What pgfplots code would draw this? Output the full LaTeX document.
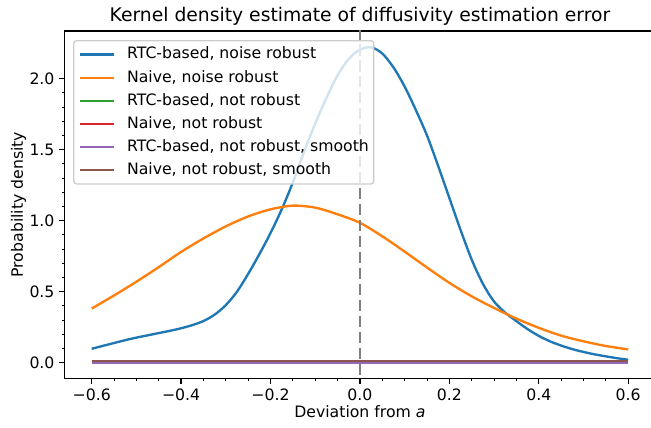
\documentclass[border=0pt]{standalone}
\usepackage{fontspec}
\setmainfont{DejaVu Sans}[ItalicFont={DejaVu Sans Oblique}]
\usepackage{pgfplots}
\pgfplotsset{compat=1.18}

\definecolor{tabblue}{HTML}{1F77B4}
\definecolor{taborange}{HTML}{FF7F0E}
\definecolor{tabgreen}{HTML}{2CA02C}
\definecolor{tabred}{HTML}{D62728}
\definecolor{tabpurple}{HTML}{9467BD}
\definecolor{tabbrown}{HTML}{8C564B}
\definecolor{legframe}{HTML}{CCCCCC}

\begin{document}
\begin{tikzpicture}
\begin{axis}[%
    ,at={(0,0)},anchor=south west
    ,scale only axis,width=424.9pt,height=250.1pt
    ,xmin=-0.66,xmax=0.66,ymin=-0.111,ymax=2.337
    ,axis line style={line width=0.9pt}
    ,tick align=outside,xtick pos=bottom,ytick pos=left
    ,major tick length=3.95pt,minor tick length=2.25pt
    ,every major tick/.append style={black,line width=0.9pt}
    ,every minor tick/.append style={black,line width=0.7pt}
    ,xtick={-0.6,-0.4,-0.2,0,0.2,0.4,0.6}
    ,xticklabels={−0.6,−0.4,−0.2,0.0,0.2,0.4,0.6}
    ,minor x tick num=3
    ,ytick={0,0.5,1,1.5,2}
    ,yticklabels={0.0,0.5,1.0,1.5,2.0}
    ,minor y tick num=4
    ,tick label style={font=\fontsize{11.3}{13.5}\selectfont}
    ,title={Kernel density estimate of diffusivity estimation error}
    ,every axis title/.style={font=\fontsize{13.5}{16}\selectfont,at={(0.5,1)},anchor=base,yshift=6.7pt}
    ,xlabel={Deviation from \textit{a}}
    ,every axis x label/.style={font=\fontsize{11.3}{13.5}\selectfont,at={(0.5,0)},anchor=base,yshift=-28pt}
    ,ylabel={Probability density}
    ,every axis y label/.style={font=\fontsize{11.3}{13.5}\selectfont,at={(0,0.5)},xshift=-30.2pt,rotate=90,anchor=base}
    ,legend cell align=left
    ,legend style={%
        ,at={(0.0142,0.974)},anchor=north west
        ,draw=legframe,line width=0.9pt,rounded corners=2pt
        ,fill=white,fill opacity=0.8,text opacity=1
        ,font=\fontsize{11.3}{13.5}\selectfont
        ,inner xsep=3.5pt,inner ysep=4.6pt
        ,row sep=5.6pt,column sep=8.6pt
        ,nodes={inner sep=0pt,text height=8.6pt,text depth=2.4pt}
        }
    ,legend image code/.code={\draw[#1] (0pt,0pt) -- (24.5pt,0pt);}
    ,every axis plot/.append style={line width=1.7pt}
    ]
\addplot[tabblue,smooth] coordinates {
    (-0.600,0.097) (-0.575,0.118) (-0.550,0.138) (-0.525,0.158) (-0.500,0.176)
    (-0.475,0.192) (-0.450,0.208) (-0.425,0.224) (-0.400,0.242) (-0.375,0.264)
    (-0.350,0.293) (-0.325,0.338) (-0.300,0.405) (-0.275,0.500) (-0.250,0.625)
    (-0.225,0.764) (-0.200,0.913) (-0.175,1.080) (-0.150,1.270) (-0.125,1.485)
    (-0.100,1.685) (-0.075,1.865) (-0.050,2.025) (-0.025,2.140) (0.000,2.205)
    (0.025,2.222) (0.050,2.178) (0.075,2.080) (0.100,1.945) (0.125,1.780)
    (0.150,1.600) (0.175,1.385) (0.200,1.160) (0.225,0.935) (0.250,0.725)
    (0.275,0.555) (0.300,0.430) (0.325,0.352) (0.350,0.292) (0.375,0.236)
    (0.400,0.188) (0.425,0.150) (0.450,0.120) (0.475,0.095) (0.500,0.075)
    (0.525,0.058) (0.550,0.044) (0.575,0.031) (0.600,0.020)};
\addlegendentry{RTC-based, noise robust}
\addplot[taborange,smooth] coordinates {
    (-0.60,0.381) (-0.55,0.473) (-0.50,0.570) (-0.45,0.673) (-0.40,0.780)
    (-0.35,0.875) (-0.30,0.960) (-0.25,1.030) (-0.20,1.080) (-0.15,1.106)
    (-0.10,1.092) (-0.05,1.045) (0.00,0.985) (0.05,0.890) (0.10,0.782)
    (0.15,0.670) (0.20,0.562) (0.25,0.467) (0.30,0.385) (0.35,0.310)
    (0.40,0.245) (0.45,0.190) (0.50,0.150) (0.55,0.117) (0.60,0.093)};
\addlegendentry{Naive, noise robust}
\addplot[tabgreen] coordinates {(-0.60,0.000) (0.60,0.000)};
\addlegendentry{RTC-based, not robust}
\addplot[tabred] coordinates {(-0.60,0.013) (0.60,0.013)};
\addlegendentry{Naive, not robust}
\addplot[tabpurple] coordinates {(-0.60,0.000) (0.60,0.000)};
\addlegendentry{RTC-based, not robust, smooth}
\addplot[tabbrown] coordinates {(-0.60,0.013) (0.60,0.013)};
\addlegendentry{Naive, not robust, smooth}
\addplot[forget plot,black!50,line width=1.7pt,dash pattern=on 8pt off 3.5pt]
    coordinates {(0,-0.2) (0,2.5)};
\end{axis}
\pgfresetboundingbox
\path (-46.7pt,-35.1pt) rectangle (422pt,272.4pt);
\end{tikzpicture}
\end{document}
